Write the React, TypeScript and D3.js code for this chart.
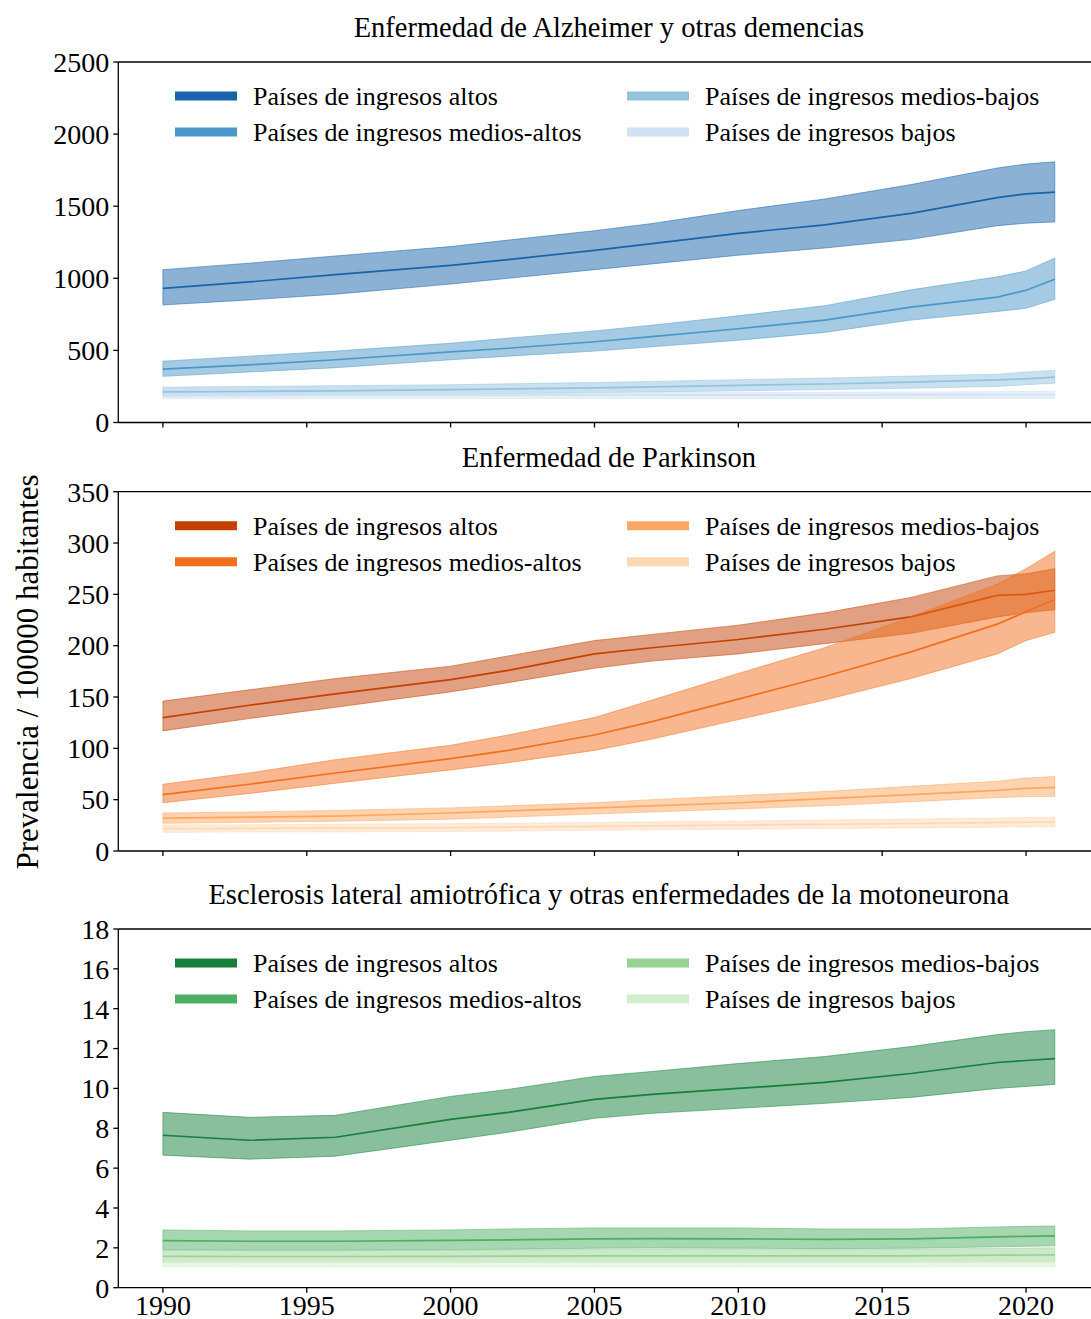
import React from "react";
import * as d3 from "d3";

const YEARS = [1990, 1993, 1996, 2000, 2002, 2005, 2007, 2010, 2013, 2016, 2019, 2020, 2021];

const LEGEND_LABELS = [
  "Países de ingresos altos",
  "Países de ingresos medios-altos",
  "Países de ingresos medios-bajos",
  "Países de ingresos bajos",
];

// Alzheimer
const ALZ_HIGH = [930, 975, 1025, 1090, 1130, 1194, 1240, 1312, 1370, 1450, 1560, 1585, 1597];
const ALZ_HIGH_UP = [1060, 1105, 1155, 1220, 1265, 1330, 1380, 1470, 1550, 1650, 1765, 1792, 1808];
const ALZ_HIGH_LO = [815, 850, 890, 960, 1000, 1060, 1100, 1160, 1210, 1270, 1365, 1382, 1391];
const ALZ_UM = [370, 400, 435, 490, 515, 560, 595, 650, 710, 800, 870, 917, 993];
const ALZ_UM_UP = [425, 460, 495, 550, 585, 635, 675, 740, 810, 920, 1010, 1051, 1141];
const ALZ_UM_LO = [320, 350, 380, 435, 460, 495, 525, 570, 625, 710, 770, 792, 854];
const ALZ_LM = [212, 215, 220, 228, 233, 240, 247, 258, 267, 280, 295, 303, 315];
const ALZ_LM_UP = [245, 250, 255, 262, 268, 277, 285, 297, 308, 322, 335, 350, 361];
const ALZ_LM_LO = [182, 185, 188, 195, 200, 207, 212, 220, 228, 238, 250, 262, 273];
const ALZ_LOW = [188, 188, 189, 190, 190, 191, 191, 192, 192, 193, 194, 194, 194];
const ALZ_LOW_UP = [200, 201, 202, 204, 205, 206, 207, 209, 210, 212, 214, 216, 217];
const ALZ_LOW_LO = [165, 165, 165, 166, 166, 166, 166, 166, 167, 167, 167, 167, 167];

// Parkinson
const PD_HIGH = [130, 142, 153, 167, 176, 192, 198, 206, 216, 228, 249, 250, 254];
const PD_HIGH_UP = [146, 157, 168, 180, 190, 205, 211, 220, 232, 247, 268, 270, 275];
const PD_HIGH_LO = [117, 129, 140, 155, 164, 178, 185, 192, 202, 212, 228, 232, 235];
const PD_UM = [55, 65, 76, 90, 98, 113, 126, 148, 170, 194, 221, 233, 245];
const PD_UM_UP = [65, 76, 89, 103, 113, 130, 147, 173, 198, 228, 260, 275, 292];
const PD_UM_LO = [47, 56, 66, 79, 86, 98, 109, 128, 147, 168, 192, 205, 213];
const PD_LM = [32, 33, 34, 37, 39, 42, 44, 47, 51, 55, 59, 61, 62];
const PD_LM_UP = [37, 38, 39.5, 42, 44, 47, 50, 54, 58, 63, 68, 71, 72.5];
const PD_LM_LO = [27, 28, 29, 31, 33, 36, 38, 41, 44, 48, 52, 53, 53];
const PD_LOW = [21.8, 22, 22.3, 22.8, 23.2, 24, 24.5, 25.2, 26, 26.8, 27.6, 28, 28.3];
const PD_LOW_UP = [25.3, 25.6, 26, 26.6, 27, 27.8, 28.4, 29.2, 30.2, 31.2, 32.2, 32.6, 32.8];
const PD_LOW_LO = [18.2, 18.4, 18.6, 19, 19.4, 20.1, 20.6, 21.2, 21.9, 22.5, 23.2, 23.5, 23.7];

// ELA
const ALS_HIGH = [7.65, 7.4, 7.55, 8.45, 8.8, 9.45, 9.7, 10.0, 10.3, 10.75, 11.3, 11.4, 11.5];
const ALS_HIGH_UP = [8.8, 8.55, 8.65, 9.6, 9.95, 10.6, 10.85, 11.25, 11.6, 12.1, 12.7, 12.85, 12.95];
const ALS_HIGH_LO = [6.65, 6.45, 6.6, 7.4, 7.8, 8.5, 8.75, 9.0, 9.25, 9.55, 10.0, 10.1, 10.2];
const ALS_UM = [2.36, 2.33, 2.33, 2.37, 2.4, 2.45, 2.46, 2.45, 2.43, 2.45, 2.55, 2.58, 2.6];
const ALS_UM_UP = [2.9, 2.85, 2.85, 2.9, 2.95, 3.0, 3.0, 3.0, 2.95, 2.95, 3.05, 3.08, 3.1];
const ALS_UM_LO = [1.9, 1.88, 1.88, 1.9, 1.93, 1.98, 1.99, 1.98, 1.96, 1.98, 2.05, 2.08, 2.1];
const ALS_LM = [1.57, 1.56, 1.56, 1.57, 1.58, 1.6, 1.6, 1.6, 1.6, 1.6, 1.63, 1.64, 1.65];
const ALS_LM_UP = [1.87, 1.86, 1.86, 1.88, 1.9, 1.92, 1.93, 1.93, 1.93, 1.94, 1.97, 1.99, 2.0];
const ALS_LM_LO = [1.3, 1.29, 1.29, 1.3, 1.3, 1.31, 1.31, 1.31, 1.31, 1.32, 1.33, 1.34, 1.35];
const ALS_LOW = [1.3, 1.29, 1.29, 1.29, 1.29, 1.29, 1.29, 1.29, 1.29, 1.29, 1.3, 1.3, 1.3];
const ALS_LOW_UP = [1.5, 1.49, 1.49, 1.49, 1.49, 1.5, 1.5, 1.5, 1.5, 1.5, 1.51, 1.51, 1.52];
const ALS_LOW_LO = [1.05, 1.04, 1.04, 1.04, 1.04, 1.04, 1.04, 1.04, 1.04, 1.04, 1.05, 1.05, 1.05];

const TITLES = [
  "Enfermedad de Alzheimer y otras demencias",
  "Enfermedad de Parkinson",
  "Esclerosis lateral amiotrófica y otras enfermedades de la motoneurona",
];
const Y_TICKS_ALZ = [0, 500, 1000, 1500, 2000, 2500];
const Y_TICKS_PD = [0, 50, 100, 150, 200, 250, 300, 350];
const Y_TICKS_ALS = [0, 2, 4, 6, 8, 10, 12, 14, 16, 18];
const X_TICKS = [1990, 1995, 2000, 2005, 2010, 2015, 2020];
const Y_LABEL = "Prevalencia / 100000 habitantes";

type Series = { mean: number[]; up: number[]; lo: number[] };
type Panel = {
  title: string;
  ticks: number[];
  ymax: number;
  interp: (t: number) => string;
  series: Series[];
  top: number;
  bottom: number;
};

const SHADES = [0.8, 0.6, 0.4, 0.2];

const PANELS: Panel[] = [
  {
    title: TITLES[0],
    ticks: Y_TICKS_ALZ,
    ymax: 2500,
    interp: d3.interpolateBlues,
    top: 62,
    bottom: 422.5,
    series: [
      { mean: ALZ_HIGH, up: ALZ_HIGH_UP, lo: ALZ_HIGH_LO },
      { mean: ALZ_UM, up: ALZ_UM_UP, lo: ALZ_UM_LO },
      { mean: ALZ_LM, up: ALZ_LM_UP, lo: ALZ_LM_LO },
      { mean: ALZ_LOW, up: ALZ_LOW_UP, lo: ALZ_LOW_LO },
    ],
  },
  {
    title: TITLES[1],
    ticks: Y_TICKS_PD,
    ymax: 350,
    interp: d3.interpolateOranges,
    top: 491.7,
    bottom: 851,
    series: [
      { mean: PD_HIGH, up: PD_HIGH_UP, lo: PD_HIGH_LO },
      { mean: PD_UM, up: PD_UM_UP, lo: PD_UM_LO },
      { mean: PD_LM, up: PD_LM_UP, lo: PD_LM_LO },
      { mean: PD_LOW, up: PD_LOW_UP, lo: PD_LOW_LO },
    ],
  },
  {
    title: TITLES[2],
    ticks: Y_TICKS_ALS,
    ymax: 18,
    interp: d3.interpolateGreens,
    top: 929,
    bottom: 1287.7,
    series: [
      { mean: ALS_HIGH, up: ALS_HIGH_UP, lo: ALS_HIGH_LO },
      { mean: ALS_UM, up: ALS_UM_UP, lo: ALS_UM_LO },
      { mean: ALS_LM, up: ALS_LM_UP, lo: ALS_LM_LO },
      { mean: ALS_LOW, up: ALS_LOW_UP, lo: ALS_LOW_LO },
    ],
  },
];

const W = 1091;
const H = 1319;
const LEFT = 118.3;
const RIGHT = 1099.4;
const FONT = "'Liberation Serif', 'Times New Roman', serif";

const x = d3.scaleLinear().domain([1988.45, 2022.55]).range([LEFT, RIGHT]);

function PanelView({ p, showX }: { p: Panel; showX: boolean }) {
  const y = d3.scaleLinear().domain([0, p.ymax]).range([p.bottom, p.top]);
  const area = (s: Series) =>
    d3
      .area<number>()
      .x((_, i) => x(YEARS[i]))
      .y0((_, i) => y(s.lo[i]))
      .y1((_, i) => y(s.up[i]))(YEARS) as string;
  const line = (s: Series) =>
    d3
      .line<number>()
      .x((_, i) => x(YEARS[i]))
      .y((_, i) => y(s.mean[i]))(YEARS) as string;
  const legendPos = [
    [175, 253, 34],
    [175, 253, 70],
    [627, 705, 34],
    [627, 705, 70],
  ];
  return (
    <g>
      <text
        x={(LEFT + RIGHT) / 2}
        y={p.top - 25}
        textAnchor="middle"
        fontSize={28.5}
        fontFamily={FONT}
      >
        {p.title}
      </text>
      {p.series.map((s, i) => {
        const c = p.interp(SHADES[i]);
        return (
          <g key={i}>
            <path d={area(s)} fill={c} fillOpacity={0.5} stroke={c} strokeOpacity={0.5} strokeWidth={1} />
            <path d={line(s)} fill="none" stroke={c} strokeWidth={1.7} />
          </g>
        );
      })}
      {/* spines */}
      <line x1={LEFT} x2={W} y1={p.top} y2={p.top} stroke="black" strokeWidth={1.3} />
      <line x1={LEFT} x2={W} y1={p.bottom} y2={p.bottom} stroke="black" strokeWidth={1.3} />
      <line x1={LEFT} x2={LEFT} y1={p.top} y2={p.bottom} stroke="black" strokeWidth={1.3} />
      {p.ticks.map((t) => (
        <g key={t}>
          <line x1={LEFT - 5} x2={LEFT} y1={y(t)} y2={y(t)} stroke="black" strokeWidth={1.3} />
          <text x={LEFT - 9} y={y(t)} dy="0.35em" textAnchor="end" fontSize={28} fontFamily={FONT}>
            {t}
          </text>
        </g>
      ))}
      {X_TICKS.map((t) => (
        <g key={t}>
          <line x1={x(t)} x2={x(t)} y1={p.bottom} y2={p.bottom + 5} stroke="black" strokeWidth={1.3} />
          {showX && (
            <text x={x(t)} y={p.bottom + 27} textAnchor="middle" fontSize={28} fontFamily={FONT}>
              {t}
            </text>
          )}
        </g>
      ))}
      {LEGEND_LABELS.map((lab, i) => {
        const [sx, tx, dy] = legendPos[i];
        const c = p.interp(SHADES[i]);
        return (
          <g key={lab}>
            <line x1={sx} x2={sx + 62} y1={p.top + dy} y2={p.top + dy} stroke={c} strokeWidth={9} />
            <text x={tx} y={p.top + dy} dy="0.35em" fontSize={26} fontFamily={FONT}>
              {lab}
            </text>
          </g>
        );
      })}
    </g>
  );
}

export default function App() {
  return (
    <svg width={W} height={H} style={{ display: "block", position: "absolute", left: 0, top: 0 }}>
      <rect width={W} height={H} fill="white" />
      {PANELS.map((p, i) => (
        <PanelView key={i} p={p} showX={i === PANELS.length - 1} />
      ))}
      <text
        transform={`translate(38, 672) rotate(-90)`}
        textAnchor="middle"
        fontSize={31}
        fontFamily={FONT}
      >
        {Y_LABEL}
      </text>
    </svg>
  );
}
